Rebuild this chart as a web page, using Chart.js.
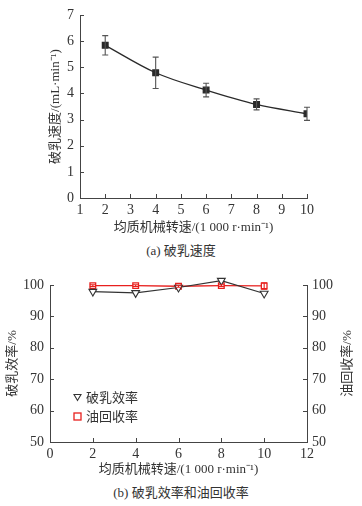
<!DOCTYPE html>
<html>
<head>
<meta charset="utf-8">
<script src="https://cdn.jsdelivr.net/npm/chart.js@4.4.0/dist/chart.umd.min.js"></script>
<style>
  body { margin: 0; background: #fff; width: 362px; height: 506px; position: relative; overflow: hidden;
         font-family: "Liberation Serif", "Noto Sans CJK SC", serif; color: #333; }
  .box { position: absolute; left: 0; width: 362px; }
  #boxA { top: 0; height: 238px; }
  #boxB { top: 265px; height: 215px; }
  .cap { position: absolute; left: 0; width: 362px; text-align: center; font-size: 13px; }
  #legend { position: absolute; left: 73px; top: 388px; font-size: 13px; line-height: 19px; }
  #legend div { display: flex; align-items: center; }
  #legend svg { margin-right: 4px; }
</style>
</head>
<body>
<div class="box" id="boxA"><canvas id="chartA"></canvas></div>
<div class="cap" style="top:240px">(a) 破乳速度</div>
<div class="box" id="boxB"><canvas id="chartB"></canvas></div>
<div id="legend">
  <div><svg width="9" height="9"><polygon points="1,1.5 8,1.5 4.5,7.5" fill="#fff" stroke="#333" stroke-width="1.1"/></svg>破乳效率</div>
  <div><svg width="9" height="9"><rect x="1" y="1" width="7" height="7" fill="#fff" stroke="#e8201e" stroke-width="1.3"/></svg>油回收率</div>
</div>
<div class="cap" style="top:482px">(b) 破乳效率和油回收率</div>

<script>
// (a) 破乳速度
const speedA = [2, 4, 6, 8, 10];
const rateA = [5.84, 4.79, 4.13, 3.58, 3.22];
const rateErr = [0.37, 0.6, 0.26, 0.21, 0.25];

// (b) 破乳效率 / 油回收率
const speedB = [2, 4, 6, 8, 10];
const effB = [97.9, 97.5, 99.2, 101.4, 97.3];
const oilB = [99.8, 99.8, 99.6, 99.8, 99.7];
const oilErr = [0.3, 0.3, 0.3, 0.3, 1.0];

const serif = '"Liberation Serif", "Noto Sans CJK SC", serif';
const axisColor = '#444';

// error bars, drawn through the scales
const errorBars = {
  id: 'errorBars',
  afterDatasetsDraw(chart, args, opts) {
    const ctx = chart.ctx;
    (opts.sets || []).forEach(s => {
      const meta = chart.getDatasetMeta(s.dataset);
      const xs = chart.scales[meta.xAxisID], ys = chart.scales[meta.yAxisID];
      const ds = chart.data.datasets[s.dataset];
      ctx.save();
      ctx.strokeStyle = s.color;
      ctx.lineWidth = 1.1;
      ds.data.forEach((p, i) => {
        const x = xs.getPixelForValue(p.x);
        const y1 = ys.getPixelForValue(p.y - s.errors[i]);
        const y2 = ys.getPixelForValue(p.y + s.errors[i]);
        ctx.beginPath();
        ctx.moveTo(x, y1); ctx.lineTo(x, y2);
        ctx.moveTo(x - s.cap, y1); ctx.lineTo(x + s.cap, y1);
        ctx.moveTo(x - s.cap, y2); ctx.lineTo(x + s.cap, y2);
        ctx.stroke();
      });
      ctx.restore();
    });
  }
};

// tick marks pointing into the plot
const innerTicks = {
  id: 'innerTicks',
  afterDraw(chart) {
    const ctx = chart.ctx, a = chart.chartArea;
    ctx.save();
    ctx.strokeStyle = axisColor;
    ctx.lineWidth = 1;
    Object.values(chart.scales).forEach(s => {
      s.ticks.forEach(t => {
        const p = Math.round(s.getPixelForValue(t.value)) + 0.5;
        ctx.beginPath();
        if (s.position === 'bottom') { ctx.moveTo(p, a.bottom); ctx.lineTo(p, a.bottom - 4); }
        else if (s.position === 'left') { ctx.moveTo(a.left, p); ctx.lineTo(a.left + 4, p); }
        else { ctx.moveTo(a.right, p); ctx.lineTo(a.right - 4, p); }
        ctx.stroke();
      });
    });
    ctx.restore();
  }
};

// right axis title, reading bottom to top like the left one
const rightTitle = {
  id: 'rightTitle',
  afterDraw(chart, args, opts) {
    if (!opts.text) return;
    const ctx = chart.ctx, a = chart.chartArea;
    ctx.save();
    ctx.translate(opts.x, (a.top + a.bottom) / 2);
    ctx.rotate(-Math.PI / 2);
    ctx.font = '13px ' + serif;
    ctx.fillStyle = '#333';
    ctx.textAlign = 'center';
    ctx.textBaseline = 'middle';
    ctx.fillText(opts.text, 0, 0);
    ctx.restore();
  }
};

const tickFont = { family: serif, size: 14 };
const titleFont = { family: serif, size: 13 };

new Chart(document.getElementById('chartA'), {
  type: 'line',
  data: {
    datasets: [{
      data: speedA.map((x, i) => ({ x: x, y: rateA[i] })),
      borderColor: '#2a2a2a',
      borderWidth: 1.3,
      backgroundColor: '#2a2a2a',
      pointStyle: 'rect',
      pointRadius: 4,
      cubicInterpolationMode: 'monotone',
      fill: false
    }]
  },
  options: {
    responsive: true,
    maintainAspectRatio: false,
    animation: false,
    layout: { padding: { left: 40, right: 55, top: 15, bottom: 0 } },
    plugins: {
      legend: { display: false },
      tooltip: { enabled: false },
      errorBars: { sets: [{ dataset: 0, errors: rateErr, color: '#555', cap: 3 }] }
    },
    scales: {
      x: {
        type: 'linear', min: 1, max: 10,
        grid: { display: false, drawTicks: false },
        border: { color: axisColor, width: 1 },
        ticks: { stepSize: 1, font: tickFont, color: '#333', padding: 4, maxRotation: 0 },
        title: { display: true, text: '均质机械转速/(1 000 r·min⁻¹)', font: titleFont, color: '#333', padding: { top: 0, bottom: 3 } },
        afterFit(s) { s.height = 40; }
      },
      y: {
        min: 0, max: 7,
        grid: { display: false, drawTicks: false },
        border: { color: axisColor, width: 1 },
        ticks: { stepSize: 1, font: tickFont, color: '#333', padding: 6 },
        title: { display: true, text: '破乳速度/(mL·min⁻¹)', font: titleFont, color: '#333', padding: { top: 8, bottom: 0 } },
        afterFit(s) { s.width = 40; }
      }
    }
  },
  plugins: [errorBars, innerTicks]
});

new Chart(document.getElementById('chartB'), {
  type: 'line',
  data: {
    datasets: [{
      label: '破乳效率',
      data: speedB.map((x, i) => ({ x: x, y: effB[i] })),
      borderColor: '#333',
      borderWidth: 1.2,
      backgroundColor: '#fff',
      pointStyle: 'triangle',
      rotation: 180,
      pointRadius: 4.5,
      pointBorderWidth: 1.1,
      clip: false,
      yAxisID: 'y'
    }, {
      label: '油回收率',
      data: speedB.map((x, i) => ({ x: x, y: oilB[i] })),
      borderColor: '#e8201e',
      borderWidth: 1.3,
      backgroundColor: '#fff',
      pointStyle: 'rect',
      pointRadius: 4,
      pointBorderWidth: 1.3,
      clip: false,
      yAxisID: 'y'
    }]
  },
  options: {
    responsive: true,
    maintainAspectRatio: false,
    animation: false,
    layout: { padding: { left: 0, right: 0, top: 20, bottom: 0 } },
    plugins: {
      legend: { display: false },
      tooltip: { enabled: false },
      errorBars: { sets: [{ dataset: 1, errors: oilErr, color: '#e8201e', cap: 3 }] },
      rightTitle: { text: '油回收率/%', x: 348 }
    },
    scales: {
      x: {
        type: 'linear', min: 0, max: 12,
        grid: { display: false, drawTicks: false },
        border: { color: axisColor, width: 1 },
        ticks: { stepSize: 2, font: tickFont, color: '#333', padding: 4, maxRotation: 0 },
        title: { display: true, text: '均质机械转速/(1 000 r·min⁻¹)', font: titleFont, color: '#333', padding: { top: 0, bottom: 3 } },
        afterFit(s) { s.height = 38; }
      },
      y: {
        position: 'left', min: 50, max: 100,
        grid: { display: false, drawTicks: false },
        border: { color: axisColor, width: 1 },
        ticks: { stepSize: 10, font: tickFont, color: '#333', padding: 6 },
        title: { display: true, text: '破乳效率/%', font: titleFont, color: '#333', padding: { top: 5, bottom: 0 } },
        afterFit(s) { s.width = 50; }
      },
      y2: {
        position: 'right', min: 50, max: 100,
        grid: { display: false, drawTicks: false },
        border: { color: axisColor, width: 1 },
        ticks: { stepSize: 10, font: tickFont, color: '#333', padding: 5 },
        afterFit(s) { s.width = 55; }
      }
    }
  },
  plugins: [errorBars, innerTicks, rightTitle]
});
</script>
</body>
</html>
